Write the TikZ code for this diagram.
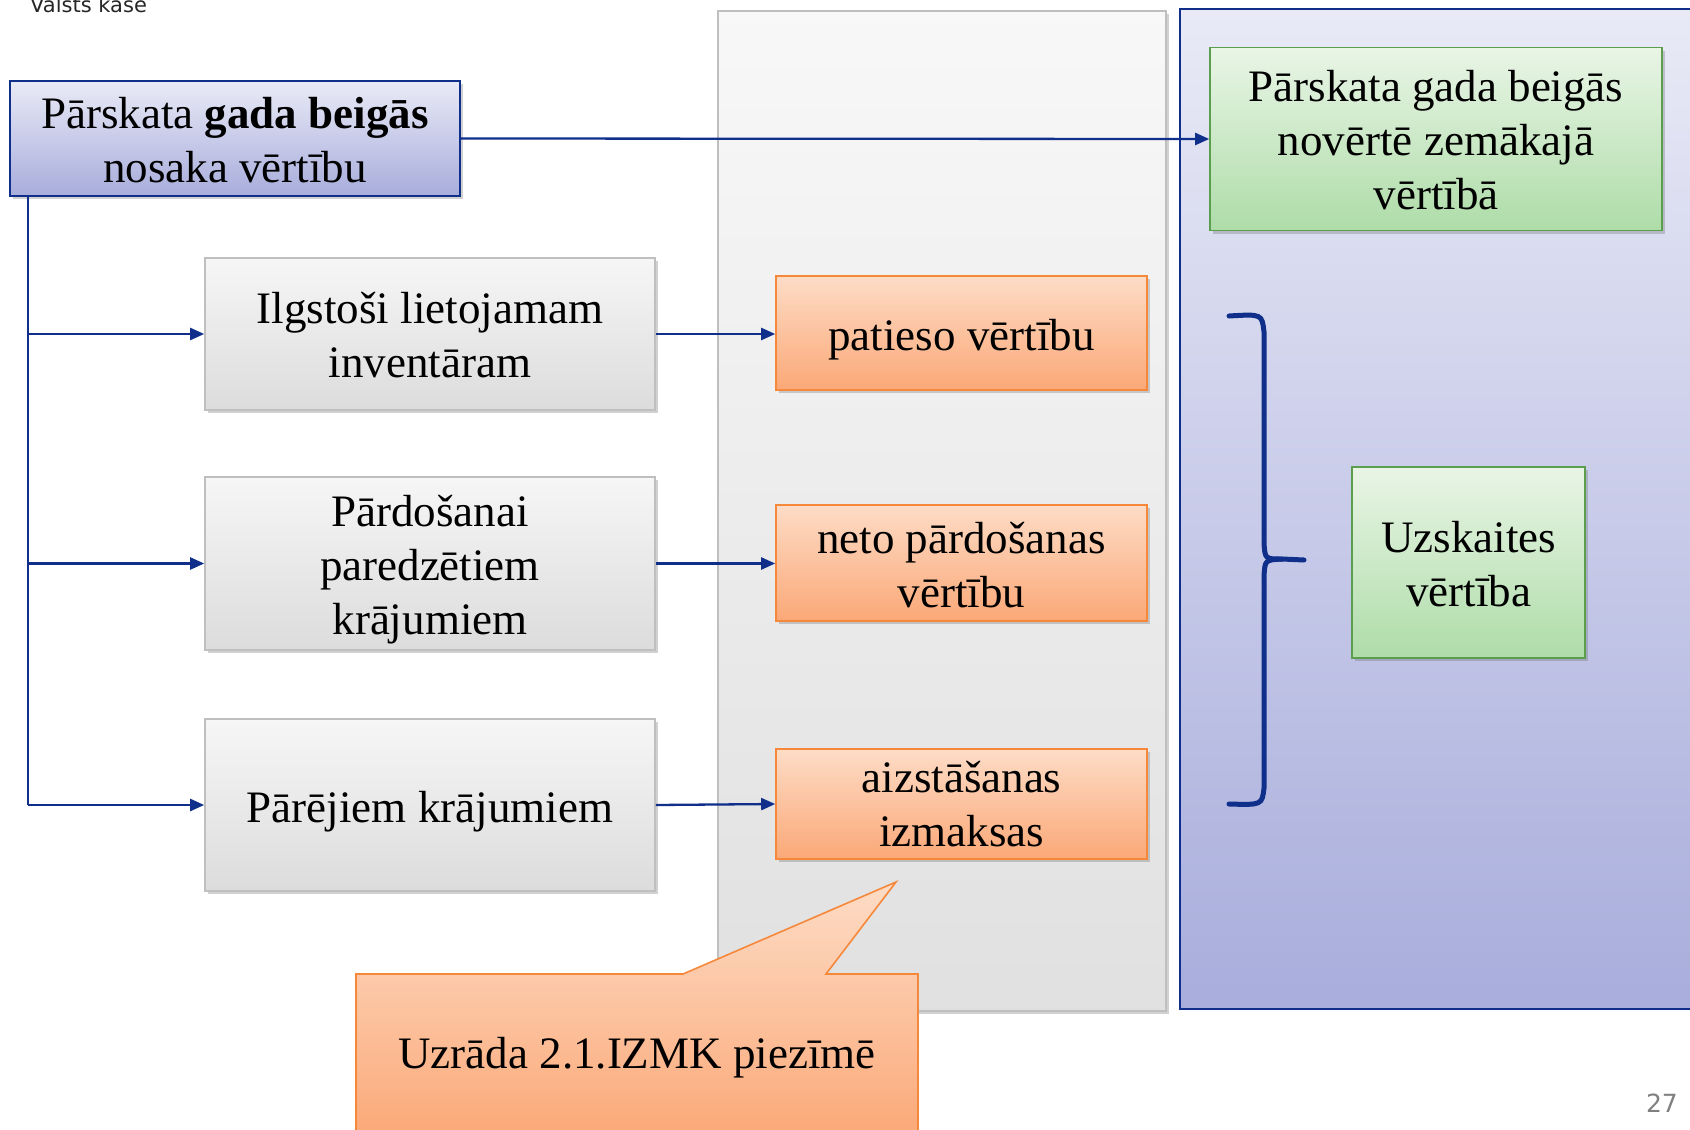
\documentclass[tikz,border=0pt]{standalone}
\usepackage{fontspec}
\setmainfont{Liberation Serif}
\newfontfamily\uisans{DejaVu Sans}
\usetikzlibrary{arrows.meta,shadows}
\definecolor{navy}{HTML}{0F2F8A}
\definecolor{lavtop}{HTML}{E9EAF6}
\definecolor{lavbot}{HTML}{A8ADDC}
\definecolor{grntop}{HTML}{E9F5E6}
\definecolor{grnbot}{HTML}{AEDCA8}
\definecolor{grnline}{HTML}{5B9E4D}
\definecolor{grytop}{HTML}{F6F6F6}
\definecolor{grybot}{HTML}{DCDCDC}
\definecolor{gryline}{HTML}{BFBFBF}
\definecolor{ortop}{HTML}{FDDCC6}
\definecolor{orbot}{HTML}{FBA877}
\definecolor{orline}{HTML}{F5883A}
% lower a centred block of lines by #1 without changing the box size
\newcommand{\lowerlines}[2]{\raisebox{-#1}[\height][\depth]{\begin{tabular}{@{}c@{}}#2\end{tabular}}}
\begin{document}
\begin{tikzpicture}[x=1pt,y=-1pt,
  every node/.style={font=\fontsize{45}{54}\selectfont, align=center, inner sep=0pt},
  shad/.style={drop shadow={shadow xshift=2.5pt, shadow yshift=-3pt, opacity=0.3, fill=black!60}},
  lavbox/.style={draw=navy, line width=2pt, top color=lavtop, bottom color=lavbot, shad},
  grnbox/.style={draw=grnline, line width=1.6pt, top color=grntop, bottom color=grnbot, shad},
  grybox/.style={draw=gryline, line width=1.6pt, top color=grytop, bottom color=grybot, shad,
                 minimum width=450pt},
  orbox/.style={draw=orline, line width=1.6pt, top color=ortop, bottom color=orbot, shad,
                minimum width=371pt},
  link/.style={draw=navy, line width=2.3pt},
  arr/.style={link, -{Triangle[length=14pt,width=12pt]}},
  bracestyle/.style={draw=navy, line width=5pt, line cap=round}]
\useasboundingbox (0,0) rectangle (1690,1130);

% panels
\path[draw=gryline, line width=1.6pt, top color=grytop!80!white, bottom color=black!12, shad]
  (718,11) rectangle (1166,1011);
\path[draw=navy, line width=2pt, top color=lavtop, bottom color=lavbot]
  (1180,9) rectangle (1710,1009);

% header and page number
\node[font=\uisans\fontsize{21}{25}\selectfont, anchor=base west, text=black!85] (hdr) at (30,12) {Valsts kase};
\node[font=\uisans\fontsize{25}{30}\selectfont, anchor=base east, text=black!50] (pg) at (1678,1112) {27};

% boxes
\node[lavbox, minimum width=450pt, minimum height=115pt] (top) at (235,138.5)
  {\lowerlines{5.8pt}{Pārskata \textbf{gada beigās}\\nosaka vērtību}};
\node[grnbox, minimum width=452pt, minimum height=183pt] (res) at (1436,139)
  {\lowerlines{5.8pt}{Pārskata gada beigās\\novērtē zemākajā\\vērtībā}};
\node[grnbox, minimum width=233pt, minimum height=191pt] (uz) at (1468.5,562.5)
  {\lowerlines{6.3pt}{Uzskaites\\vērtība}};

\node[grybox, minimum height=152pt] (g1) at (430,334)
  {\lowerlines{5.8pt}{Ilgstoši lietojamam\\inventāram}};
\node[grybox, minimum height=173pt] (g2) at (430,563.5)
  {\lowerlines{6pt}{Pārdošanai\\paredzētiem\\krājumiem}};
\node[grybox, minimum height=172pt] (g3) at (430,805)
  {\lowerlines{6.5pt}{Pārējiem krājumiem}};

\node[orbox, minimum height=114pt] (o1) at (961.5,333)
  {\lowerlines{6.5pt}{patieso vērtību}};
\node[orbox, minimum height=116pt] (o2) at (961.5,563)
  {\lowerlines{6.3pt}{neto pārdošanas\\vērtību}};
\node[orbox, minimum height=110pt] (o3) at (961.5,804)
  {\lowerlines{4.7pt}{aizstāšanas\\izmaksas}};

% connectors
\coordinate (trunk) at (28,805);
\draw[arr] (top.east) -- (res.west);
\draw[link] (top.south -| trunk) -- (trunk);
\draw[arr] (g1.west -| trunk) -- (g1.west);
\draw[arr] (g2.west -| trunk) -- (g2.west);
\draw[arr] (trunk) -- (g3.west);
\draw[arr] (g1.east) -- (o1.west |- g1.east);
\draw[arr] (g2.east) -- (o2.west |- g2.east);
\draw[arr] (g3.east) -- (o3.west);

% brace
\coordinate (brtop) at (1229,316);
\coordinate (brtip) at (1304,560);
\coordinate (brbot) at (1229,804);
\draw[bracestyle] (brtop) .. controls (1262,314) .. (1264,332) -- (1264,543)
  .. controls (1265,559) .. (1282,559) -- (brtip);
\draw[bracestyle] (1282,559) .. controls (1265,560) .. (1264,576) -- (1264,788)
  .. controls (1262,805) .. (brbot);

% callout
\path[draw=orline, line width=1.6pt, top color=ortop, bottom color=orbot]
  (356,974) -- (683,974) -- (896,882) -- (826,974) -- (918,974) -- (918,1140)
  -- (356,1140) -- cycle;
\node (cnote) at (637,1057.5) {Uzrāda 2.1.IZMK piezīmē};
\end{tikzpicture}
\end{document}
